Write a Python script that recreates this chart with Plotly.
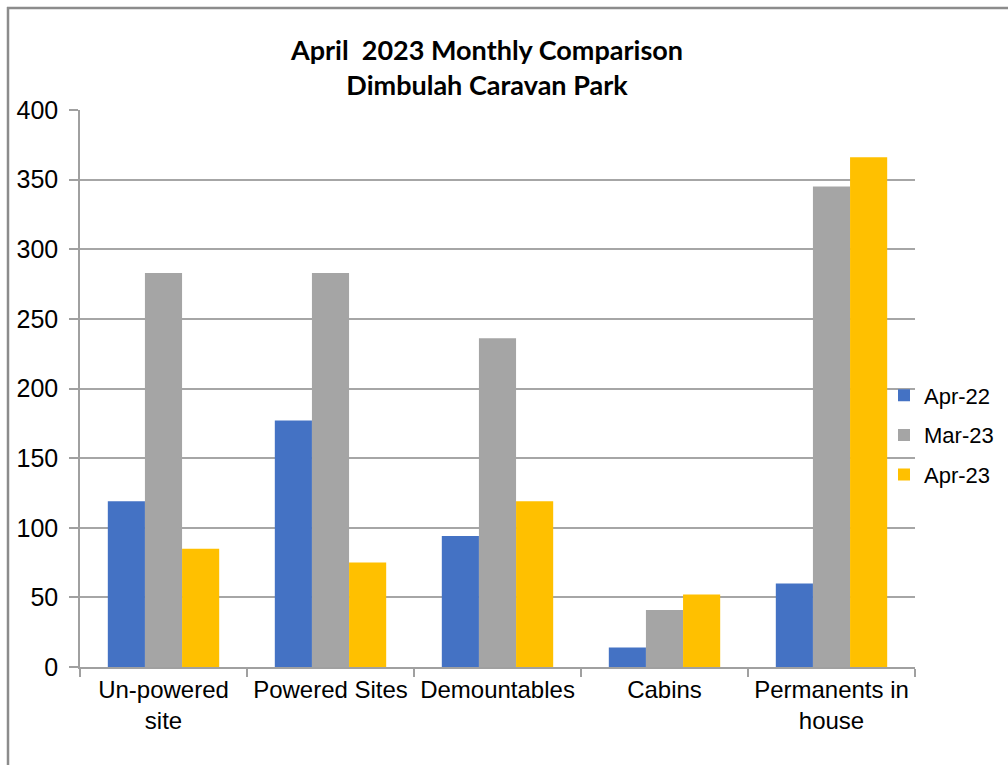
import plotly.graph_objects as go

categories = ["Un-powered<br>site", "Powered Sites", "Demountables", "Cabins", "Permanents in<br>house"]
series_names = ["Apr-22", "Mar-23", "Apr-23"]
apr22 = [119, 177, 94, 14, 60]
mar23 = [283, 283, 236, 41, 345]
apr23 = [85, 75, 119, 52, 366]
colors = ["#4472C4", "#A5A5A5", "#FFC000"]
y_ticks = [0, 50, 100, 150, 200, 250, 300, 350, 400]

W, H = 1008, 765
L, R, T, B = 80, 915, 110, 667

fig = go.Figure()
for name, vals, col in zip(series_names, [apr22, mar23, apr23], colors):
    fig.add_trace(go.Bar(x=categories, y=vals, name=name, marker=dict(color=col, line=dict(width=0)),
                         legendgroup=name))

pw, ph = R - L, B - T
def px(x):
    return (x - L) / pw
def py(y):
    return (B - y) / ph

fig.update_layout(
    width=W, height=H,
    margin=dict(l=L, r=W - R, t=T, b=H - B, autoexpand=False),
    paper_bgcolor="white", plot_bgcolor="white",
    barmode="group", bargap=0.333, bargroupgap=0,
    title=dict(text="<b>April  2023 Monthly Comparison<br>Dimbulah Caravan Park</b>",
               x=487 / W, xanchor="center", xref="container",
               y=1 - 60 / H, yanchor="middle", yref="container",
               font=dict(family="Lato, Open Sans, sans-serif", size=27, color="#000000")),
    font=dict(family="Liberation Sans, Arial, sans-serif", color="#000000"),
    legend=dict(x=px(884), xanchor="left", y=py(435), yanchor="middle",
                font=dict(size=22, family="Liberation Sans, Arial, sans-serif", color="#000000"),
                tracegroupgap=8, traceorder="grouped", bgcolor="rgba(0,0,0,0)",
                itemwidth=30),
    xaxis=dict(showgrid=False, showline=True, linecolor="#A0A0A0", linewidth=1.5,
               ticks="outside", ticklen=8, tickcolor="#A0A0A0", tickwidth=1.5,
               tickson="boundaries", tickfont=dict(size=24, color="#000000"),
               tickangle=0, automargin=False, range=[-0.5, 4.5]),
    yaxis=dict(range=[0, 400], tickvals=y_ticks, showgrid=True, gridcolor="#A6A6A6", gridwidth=1.5,
               showline=True, linecolor="#A0A0A0", linewidth=1.5, zeroline=False,
               ticks="outside", ticklen=9, tickcolor="#A0A0A0", tickwidth=1.5, automargin=False,
               tickfont=dict(size=25, color="#000000"), ticklabelstandoff=6),
    shapes=[
        dict(type="line", xref="paper", yref="paper", x0=px(7), x1=px(W + 10), y0=py(8), y1=py(8),
             line=dict(color="#8C8C8C", width=2.5)),
        dict(type="line", xref="paper", yref="paper", x0=px(8), x1=px(8), y0=py(7), y1=py(H + 10),
             line=dict(color="#8C8C8C", width=2.5)),
    ],
)

fig.write_html("out.html", config={"displayModeBar": False},
               post_script="document.body.style.margin='0px';document.body.style.overflow='hidden';")
